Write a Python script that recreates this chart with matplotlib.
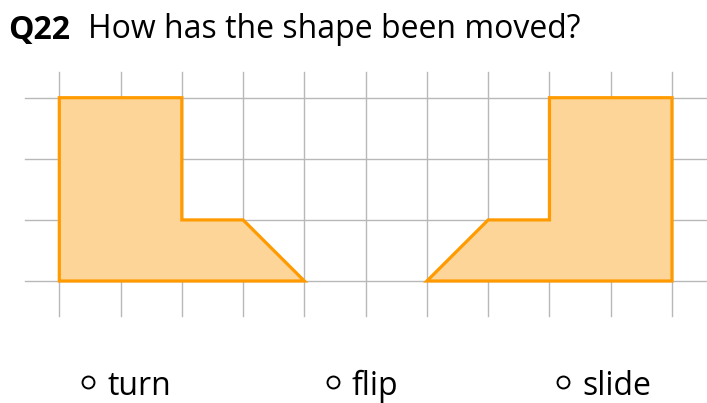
import matplotlib
matplotlib.use("Agg")
import matplotlib.pyplot as plt
from matplotlib.patches import Polygon

# ---- data ----
title_num = "Q22"
title_text = "How has the shape been moved?"
options = ["turn", "flip", "slide"]
grid_cols = list(range(0, 11))   # vertical grid lines
grid_rows = list(range(0, 4))    # horizontal grid lines
shape_original = [(0, 3), (2, 3), (2, 1), (3, 1), (4, 0), (0, 0)]
shape_moved = [(10, 3), (8, 3), (8, 1), (7, 1), (6, 0), (10, 0)]

W, H = 707, 403
fig = plt.figure(figsize=(W / 100, H / 100), dpi=100)
ax = fig.add_axes([0, 0, 1, 1])
ax.set_axis_off()

# pixel mapping: x_px = 59.3 + 61.27*x ; y_px(from top) = 281 - 61.1*y
x0, dx = 59.3, 61.27
y0, dy = 281.0, 61.1
ax.set_xlim((0 - x0) / dx, (W - x0) / dx)
ax.set_ylim((y0 - H) / dy, (y0 - 0) / dy)

grid_color = "#b8b8b8"
v_bot, v_top = (y0 - 316) / dy, (y0 - 72) / dy
h_left, h_right = (25 - x0) / dx, (706 - x0) / dx
for c in grid_cols:
    ax.plot([c, c], [v_bot, v_top], color=grid_color, lw=1.0, zorder=1)
for r in grid_rows:
    ax.plot([h_left, h_right], [r, r], color=grid_color, lw=1.0, zorder=1)

fill_c = "#fdd599"
edge_c = "#ff9b00"
for shp in (shape_original, shape_moved):
    ax.add_patch(Polygon(shp, closed=True, facecolor=fill_c, edgecolor=edge_c,
                         lw=2.3, joinstyle="miter", zorder=2))

font = "Open Sans"
fs = 23
fig.text(8 / W, 1 - 38.5 / H, title_num, fontsize=fs, fontweight="bold",
         family=font, ha="left", va="baseline")
fig.text(88 / W, 1 - 38.5 / H, title_text, fontsize=fs, family=font,
         ha="left", va="baseline")

circle_px = [88, 333, 563]
text_px = [107, 352, 582]
for opt, cx, tx in zip(options, circle_px, text_px):
    fig.text(tx / W, 1 - 395 / H, opt, fontsize=fs, family=font,
             ha="left", va="baseline")
    ax.plot([(cx - x0) / dx], [(y0 - 382) / dy], marker="o", ms=8.6,
            mfc="white", mec="black", mew=1.4, zorder=3, clip_on=False)

fig.savefig("out.png", dpi=100, facecolor="white")
